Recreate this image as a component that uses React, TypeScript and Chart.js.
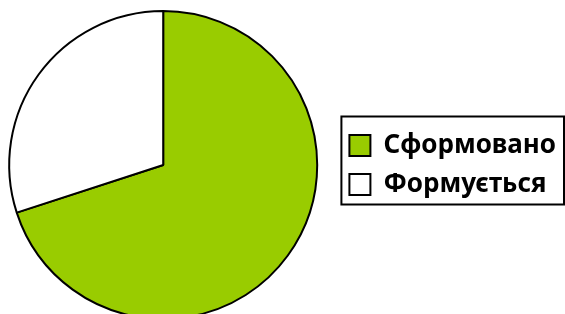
import React, { useEffect, useRef } from "react";
import { Chart, registerables } from "chart.js";

Chart.register(...registerables);

const categories: string[] = ["Сформовано", "Формується"];
const values: number[] = [70, 30];
const colors: string[] = ["#99CC00", "#FFFFFF"];

const legendBorder = {
  id: "legendBorder",
  afterDraw(chart: any) {
    const lg = chart.legend;
    if (!lg || !lg.legendHitBoxes || !lg.legendHitBoxes.length) return;
    const boxes = lg.legendHitBoxes;
    let l = Infinity, t = Infinity, r = -Infinity, b = -Infinity;
    boxes.forEach((h: any) => {
      l = Math.min(l, h.left);
      t = Math.min(t, h.top);
      r = Math.max(r, h.left + h.width);
      b = Math.max(b, h.top + h.height);
    });
    const ctx = chart.ctx;
    ctx.save();
    ctx.strokeStyle = "#000";
    ctx.lineWidth = 2;
    ctx.strokeRect(l - 8, t - 16, r - l + 16, b - t + 23);
    ctx.restore();
  },
};

export default function App() {
  const ref = useRef<HTMLCanvasElement | null>(null);
  useEffect(() => {
    if (!ref.current) return;
    const chart = new Chart(ref.current, {
      type: "pie",
      data: {
        labels: categories,
        datasets: [
          {
            data: values,
            backgroundColor: colors,
            borderColor: "#000000",
            borderWidth: 2,
          },
        ],
      },
      options: {
        animation: false,
        responsive: true,
        maintainAspectRatio: false,
        layout: { padding: { top: 10, left: 0, right: -1, bottom: 10 } },
        plugins: {
          tooltip: { enabled: false },
          legend: {
            position: "right",
            labels: {
              boxWidth: 21,
              boxHeight: 21,
              padding: 13,
              color: "#000",
              font: { family: "'Noto Sans', sans-serif", size: 26, weight: "bold" },
            },
          },
        },
      },
      plugins: [legendBorder],
    });
    return () => chart.destroy();
  }, []);
  return (
    <div style={{ position: "absolute", left: -10, top: 0, width: 575, height: 330 }}>
      <canvas ref={ref} />
    </div>
  );
}
